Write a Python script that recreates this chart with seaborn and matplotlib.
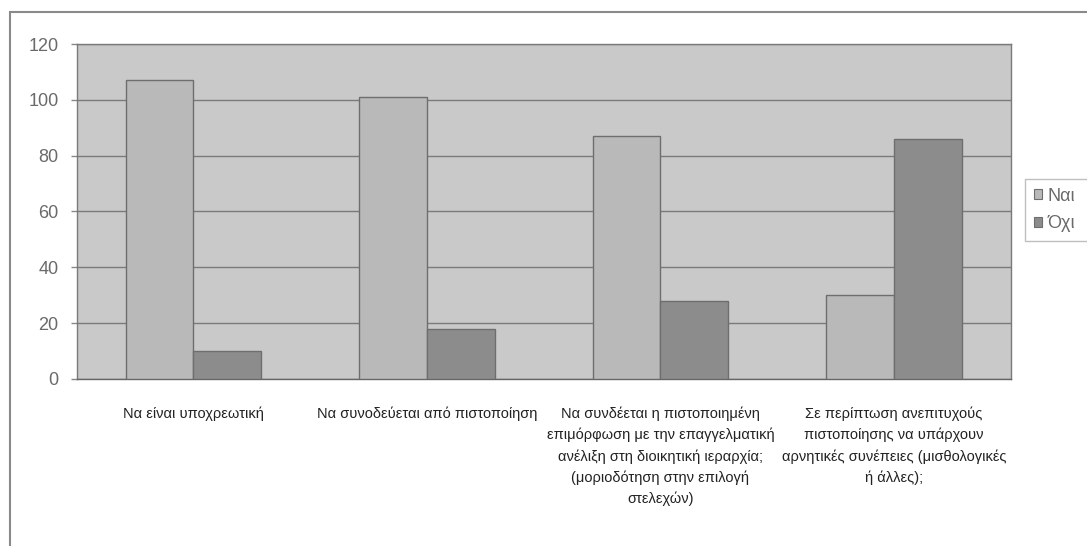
import matplotlib
matplotlib.use("Agg")
import matplotlib.pyplot as plt
from matplotlib.patches import Rectangle
import pandas as pd
import seaborn as sns

categories = [
    "Να είναι υποχρεωτική",
    "Να συνοδεύεται από πιστοποίηση",
    "Να συνδέεται η πιστοποιημένη\nεπιμόρφωση με την επαγγελματική\nανέλιξη στη διοικητική ιεραρχία;\n(μοριοδότηση στην επιλογή\nστελεχών)",
    "Σε περίπτωση ανεπιτυχούς\nπιστοποίησης να υπάρχουν\nαρνητικές συνέπειες (μισθολογικές\nή άλλες);",
]
series_names = ["Ναι", "Όχι"]
yes_values = [107, 101, 87, 30]
no_values = [10, 18, 28, 86]
y_ticks = [0, 20, 40, 60, 80, 100, 120]

rows = []
for cat, y, n in zip(categories, yes_values, no_values):
    rows.append({"category": cat, "series": series_names[0], "value": y})
    rows.append({"category": cat, "series": series_names[1], "value": n})
df = pd.DataFrame(rows)

sns.set_theme(style="white")
plt.rcParams["font.family"] = ["Liberation Sans", "DejaVu Sans"]

fig = plt.figure(figsize=(10.87, 5.46), dpi=100)
fig.patch.set_facecolor("white")
ax = fig.add_axes([0.0706, 0.3059, 0.9298 - 0.0706, 0.9194 - 0.3059])
ax.set_facecolor("#c9c9c9")

palette = {"Ναι": "#b9b9b9", "Όχι": "#8c8c8c"}
sns.barplot(data=df, x="category", y="value", hue="series", palette=palette,
            width=0.58, gap=0, edgecolor="#6e6e6e", linewidth=1.0,
            saturation=1, ax=ax, zorder=3, legend=False)

ax.set_ylim(0, 120)
ax.set_yticks(y_ticks)
ax.set_xlim(-0.5, len(categories) - 0.5)
ax.yaxis.grid(True, color="#7a7a7a", linewidth=1.0, zorder=0)
ax.set_axisbelow(True)
ax.set_xlabel("")
ax.set_ylabel("")

for side in ["top", "left", "right", "bottom"]:
    ax.spines[side].set_visible(True)
    ax.spines[side].set_color("#7a7a7a")
    ax.spines[side].set_linewidth(1.0)
ax.spines["bottom"].set_color("#666666")

ax.tick_params(axis="y", which="major", left=True, length=4, width=1,
               color="#888888", pad=9, labelsize=13, labelcolor="#6a6a6a")
ax.tick_params(axis="x", which="major", bottom=False, pad=14,
               labelsize=10.5, labelcolor="#222222")
for lbl in ax.get_xticklabels():
    lbl.set_linespacing(1.58)
    lbl.set_horizontalalignment("center")
    lbl.set_verticalalignment("top")

# Legend box running off the right edge of the figure
handles = [Rectangle((0, 0), 1, 1, facecolor=palette[s], edgecolor="#6e6e6e",
                     linewidth=0.8) for s in series_names]
leg = fig.legend(handles, series_names, loc="upper left", mode="expand",
                 bbox_to_anchor=(1025 / 1087, 1 - 179 / 546, 110 / 1087, 0.0),
                 frameon=True, fancybox=False, edgecolor="#b0b0b0",
                 fontsize=13, handlelength=0.45, handleheight=0.45,
                 handletextpad=0.3, borderpad=0.48, labelspacing=0.6,
                 borderaxespad=0)
for t in leg.get_texts():
    t.set_color("#6a6a6a")

# Outer chart border
fig.patches.append(Rectangle((10 / 1087, -0.2), 1.2, 0.978 + 0.2,
                             transform=fig.transFigure, fill=False,
                             edgecolor="#8a8a8a", linewidth=1.5))

fig.savefig("out.png", dpi=100)
